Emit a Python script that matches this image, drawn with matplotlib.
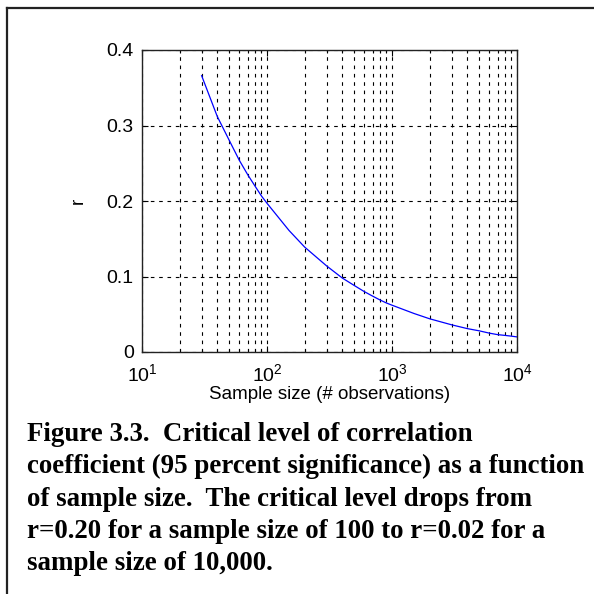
import matplotlib
matplotlib.use("Agg")
import matplotlib.pyplot as plt
from matplotlib.lines import Line2D
from matplotlib.ticker import LogLocator, FixedLocator, NullFormatter

plt.rcParams['font.family'] = ['Liberation Sans', 'DejaVu Sans']
plt.rcParams['mathtext.default'] = 'regular'
plt.rcParams['lines.scale_dashes'] = False

# data
sample_size = [30, 40, 50, 60, 70, 80, 90, 100, 150, 200, 300, 400, 500, 600,
               700, 800, 900, 1000, 1500, 2000, 3000, 4000, 5000, 6000, 7000,
               8000, 9000, 10000]
r_critical = [0.366, 0.312, 0.28, 0.254, 0.235, 0.22, 0.207, 0.197, 0.161,
              0.139, 0.114, 0.098, 0.088, 0.080, 0.074, 0.069, 0.065, 0.062,
              0.051, 0.044, 0.036, 0.031, 0.028, 0.025, 0.023, 0.022, 0.021,
              0.020]
x_ticks = [10, 100, 1000, 10000]
x_tick_labels = ['$10^{1}$', '$10^{2}$', '$10^{3}$', '$10^{4}$']
y_ticks = [0, 0.1, 0.2, 0.3, 0.4]
y_tick_labels = ['0', '0.1', '0.2', '0.3', '0.4']
x_label = 'Sample size (# observations)'
y_label = 'r'
caption_lines = [
    'Figure 3.3.  Critical level of correlation',
    'coefficient (95 percent significance) as a function',
    'of sample size.  The critical level drops from',
    'r=0.20 for a sample size of 100 to r=0.02 for a',
    'sample size of 10,000.',
]

W = H = 594
fig = plt.figure(figsize=(5.94, 5.94), dpi=100)
fig.patch.set_facecolor('white')

def fx(px):
    return px / W

def fy(py):
    return 1 - py / H

ax = fig.add_axes([fx(142), fy(352), fx(517) - fx(142), fy(50) - fy(352)])
ax.set_xscale('log')
ax.set_xlim(10, 10000)
ax.set_ylim(0, 0.4)

ax.plot(sample_size, r_critical, color='#0000ff', lw=0.9)

ax.xaxis.set_major_locator(FixedLocator(x_ticks))
ax.set_xticklabels(x_tick_labels)
ax.xaxis.set_minor_locator(LogLocator(base=10, subs=range(2, 10)))
ax.xaxis.set_minor_formatter(NullFormatter())
ax.set_yticks(y_ticks)
ax.set_yticklabels(y_tick_labels)

dash = (0, (2.6, 3.4))
ax.grid(True, which='major', axis='both', color='black', lw=0.8, linestyle=dash)
ax.grid(True, which='minor', axis='x', color='black', lw=0.8, linestyle=dash)

ax.tick_params(which='both', direction='in', top=True, right=True,
               labelsize=14, colors='black')
ax.tick_params(which='major', length=4, width=0.8)
ax.tick_params(which='minor', length=2.5, width=0.8)
ax.tick_params(axis='x', pad=8)
ax.tick_params(axis='y', pad=6)
for s in ax.spines.values():
    s.set_linewidth(1.0)
    s.set_color('#222222')

ax.set_xlabel(x_label, fontsize=13.5, labelpad=1)
ax.set_ylabel(y_label, fontsize=13.5, labelpad=14)

# caption
for i, line in enumerate(caption_lines):
    fig.text(fx(27), fy(441 + 32.3 * i), line, fontsize=19.35,
             fontweight='bold', family='Liberation Serif', va='baseline',
             ha='left', color='black')

# outer frame (left and top edges)
fig.add_artist(Line2D([fx(6.5), fx(6.5)], [fy(8), fy(600)], color='#222222',
                      lw=1.6, transform=fig.transFigure))
fig.add_artist(Line2D([fx(6.5), fx(594)], [fy(8), fy(8)], color='#222222',
                      lw=1.6, transform=fig.transFigure))

fig.savefig('out.png', dpi=100, facecolor='white')
